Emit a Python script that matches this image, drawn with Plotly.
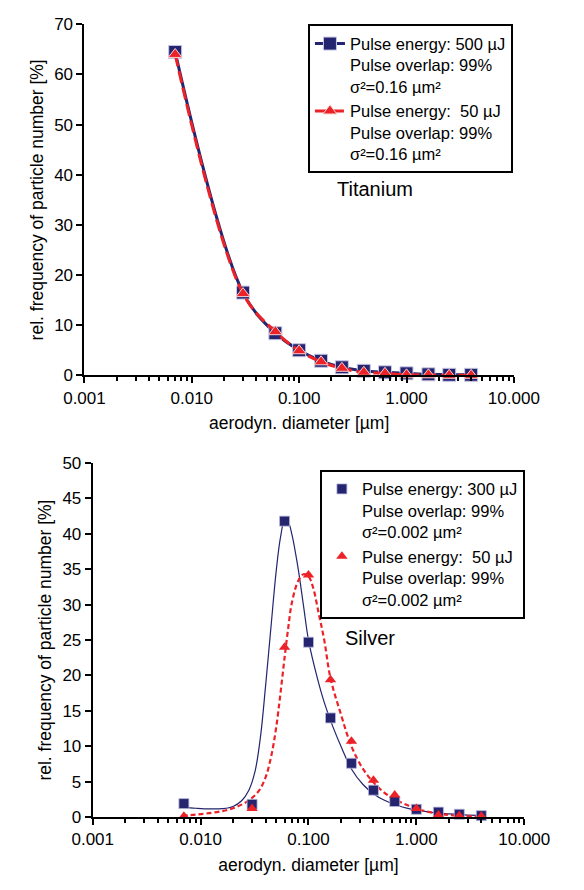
import plotly.graph_objects as go

# ---------------- data ----------------
diam = [0.007, 0.03, 0.06, 0.1, 0.16, 0.25, 0.4, 0.63, 1.0, 1.6, 2.5, 4.0]

ti_500 = [64.5, 16.5, 8.4, 5.0, 2.9, 1.6, 0.9, 0.6, 0.4, 0.2, 0.1, 0.1]
ti_50 = [64.0, 16.3, 8.7, 4.9, 2.7, 1.4, 0.6, 0.4, 0.1, 0.1, 0.0, 0.0]

ag_300 = [1.9, 1.8, 41.8, 24.7, 14.0, 7.6, 3.8, 2.2, 1.1, 0.7, 0.4, 0.2]
ag_50 = [0.1, 1.2, 24.0, 34.2, 19.4, 10.7, 5.2, 3.1, 1.2, 0.3, 0.2, 0.1]

# fitted curves
fit300_x = [0.0068, 0.009, 0.012, 0.016, 0.020, 0.024, 0.028, 0.032, 0.036, 0.040,
            0.045, 0.050, 0.055, 0.060, 0.065, 0.070, 0.080, 0.090, 0.100, 0.120,
            0.140, 0.170, 0.200, 0.250, 0.320, 0.400, 0.500, 0.650, 0.850, 1.1,
            1.5, 2.0, 2.8, 4.0]
fit300_y = [1.4, 1.25, 1.15, 1.2, 1.5, 2.3, 3.8, 6.5, 11.5, 18.5,
            27.0, 34.5, 39.5, 41.8, 41.6, 40.0, 35.2, 29.8, 25.0, 19.8,
            16.2, 12.6, 10.0, 6.8, 4.6, 3.3, 2.4, 1.7, 1.2, 0.9,
            0.6, 0.45, 0.3, 0.2]

fit50_x = [0.0068, 0.009, 0.012, 0.016, 0.020, 0.025, 0.030, 0.035, 0.040, 0.045,
           0.050, 0.055, 0.060, 0.065, 0.070, 0.080, 0.090, 0.100, 0.110, 0.125,
           0.140, 0.160, 0.200, 0.250, 0.320, 0.400, 0.500, 0.650, 0.850, 1.1,
           1.5, 2.0, 2.8, 4.0]
fit50_y = [0.2, 0.35, 0.55, 0.85, 1.25, 1.9, 2.7, 3.8, 5.6, 8.5,
           12.5, 17.5, 22.5, 26.8, 30.2, 33.3, 34.3, 34.0, 32.5, 28.6,
           25.0, 19.6, 14.5, 10.0, 6.8, 4.9, 3.5, 2.4, 1.6, 1.0,
           0.55, 0.3, 0.15, 0.08]

name_ti500 = "Pulse energy: 500 µJ<br>Pulse overlap: 99%<br>σ²=0.16 µm²"
name_ti50 = "Pulse energy:\u00a0 50 µJ<br>Pulse overlap: 99%<br>σ²=0.16 µm²"
name_ag300 = "Pulse energy: 300 µJ<br>Pulse overlap: 99%<br>σ²=0.002 µm²"
name_ag50 = "Pulse energy:\u00a0 50 µJ<br>Pulse overlap: 99%<br>σ²=0.002 µm²"

NAVY = "#24246F"
RED = "#EC2229"
FONT = "Liberation Sans, Arial, sans-serif"

W, H = 584, 890

fig = go.Figure()

# ---------------- Titanium ----------------
fig.add_trace(go.Scatter(
    x=diam, y=ti_500, mode="lines+markers", name=name_ti500,
    line=dict(color=NAVY, width=3, shape="spline"),
    marker=dict(symbol="square", size=13, color=NAVY, line=dict(color="#C8C8E6", width=1)),
    xaxis="x", yaxis="y", legend="legend", cliponaxis=False))
fig.add_trace(go.Scatter(
    x=diam, y=ti_50, mode="lines+markers", name=name_ti50,
    line=dict(color=RED, width=3, shape="spline", dash="12px,5px"),
    marker=dict(symbol="triangle-up", size=12, color=RED, line=dict(color="#F6D0D0", width=1)),
    xaxis="x", yaxis="y", legend="legend", cliponaxis=False))

# ---------------- Silver ----------------
fig.add_trace(go.Scatter(
    x=fit300_x, y=fit300_y, mode="lines", showlegend=False,
    line=dict(color=NAVY, width=1.2, shape="spline"),
    xaxis="x2", yaxis="y2", hoverinfo="skip"))
fig.add_trace(go.Scatter(
    x=fit50_x, y=fit50_y, mode="lines", showlegend=False,
    line=dict(color=RED, width=2.2, shape="spline", dash="5px,3px"),
    xaxis="x2", yaxis="y2", hoverinfo="skip"))
fig.add_trace(go.Scatter(
    x=diam, y=ag_300, mode="markers", name=name_ag300,
    marker=dict(symbol="square", size=10, color=NAVY, line=dict(color="#B8B8DC", width=0.8)),
    xaxis="x2", yaxis="y2", legend="legend2", cliponaxis=False))
fig.add_trace(go.Scatter(
    x=diam, y=ag_50, mode="markers", name=name_ag50,
    marker=dict(symbol="triangle-up", size=10, color=RED, line=dict(width=0)),
    xaxis="x2", yaxis="y2", legend="legend2", cliponaxis=False))

axis_common = dict(showline=True, linecolor="black", linewidth=2, ticks="outside",
                   ticklen=6, tickwidth=2, tickcolor="black", showgrid=False,
                   zeroline=False, mirror=False,
                   tickfont=dict(family=FONT, size=17, color="black"))

xcommon = dict(axis_common, type="log", range=[-3, 1], tickmode="linear",
               tick0=-3, dtick=1, tickformat=".3f",
               minor=dict(ticks="outside", ticklen=4, tickwidth=1.8, tickcolor="black",
                          dtick="D1", showgrid=False),
               title=dict(text="aerodyn. diameter [µm]", standoff=10,
                          font=dict(family=FONT, size=17.5, color="black")))

ytitle = dict(text="rel. frequency of particle number [%]", standoff=6,
              font=dict(family=FONT, size=17.5, color="black"))

fig.update_layout(
    width=W, height=H, margin=dict(l=0, r=0, t=0, b=0),
    paper_bgcolor="white", plot_bgcolor="white",
    font=dict(family=FONT, size=17, color="black"),
    xaxis=dict(xcommon, domain=[69 / W, 536 / W], anchor="y"),
    yaxis=dict(axis_common, domain=[1 - 374.3 / H, 1 - 15.7 / H], anchor="x",
               range=[0, 70], dtick=10, title=ytitle),
    xaxis2=dict(xcommon, domain=[78 / W, 547.3 / W], anchor="y2"),
    yaxis2=dict(axis_common, domain=[1 - 825.7 / H, 1 - 464 / H], anchor="x2",
                range=[0, 50], dtick=5, title=ytitle),
    legend=dict(x=535 / W, y=1 - 15.7 / H, xanchor="right", yanchor="top",
                bgcolor="white", bordercolor="black", borderwidth=2,
                font=dict(family=FONT, size=16.5, color="black"), valign="top",
                tracegroupgap=0),
    legend2=dict(x=548 / W, y=1 - 470.7 / H, xanchor="right", yanchor="top",
                 bgcolor="white", bordercolor="black", borderwidth=2,
                 font=dict(family=FONT, size=16.5, color="black"), valign="top",
                 tracegroupgap=0),
    annotations=[
        dict(text="Titanium", x=385 / W, y=1 - 171 / H, xref="paper", yref="paper",
             showarrow=False, font=dict(family=FONT, size=20, color="black")),
        dict(text="Silver", x=409 / W, y=1 - 655.5 / H, xref="paper", yref="paper",
             showarrow=False, font=dict(family=FONT, size=20, color="black")),
    ],
)

fig.write_html("out.html")
